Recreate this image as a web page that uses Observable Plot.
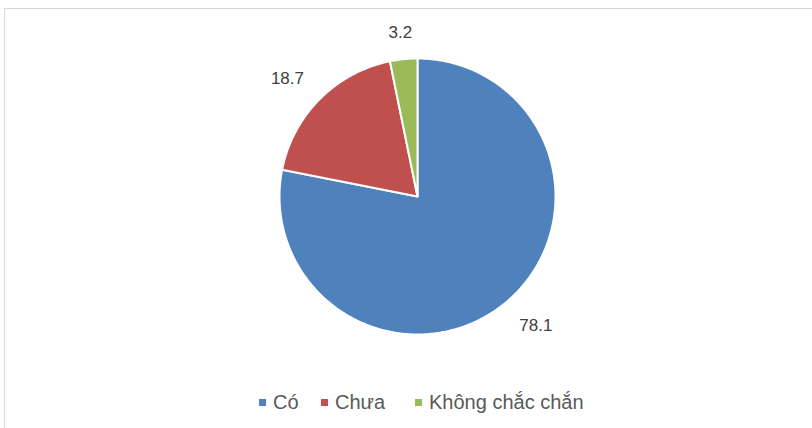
<!DOCTYPE html>
<html><head><meta charset="utf-8">
<script src="https://cdn.jsdelivr.net/npm/d3@7"></script>
<script src="https://cdn.jsdelivr.net/npm/@observablehq/plot@0.6"></script>
<style>
html,body{margin:0;padding:0;background:#fff;width:812px;height:428px;overflow:hidden;font-family:"Liberation Sans",Arial,sans-serif;}
#frame{position:absolute;left:4px;top:8px;width:830px;height:440px;border:1px solid #d9d9d9;box-sizing:border-box;}
#chart{position:absolute;left:0;top:0;}
#legend{position:absolute;left:0;top:391px;width:812px;height:26px;}
.item{position:absolute;top:0;display:flex;align-items:center;font-size:20px;line-height:23px;color:#595959;white-space:nowrap;}
.sw{width:7px;height:7px;margin-right:7px;display:inline-block;}
</style></head><body>
<div id="frame"></div>
<div id="chart"></div>
<div id="legend"></div>
<script>
const categories = ["Có", "Chưa", "Không chắc chắn"];
const values = [78.1, 18.7, 3.2];
const valueLabels = ["78.1", "18.7", "3.2"];
const colors = ["#4F81BD", "#C0504D", "#9BBB59"];

const W = 812, H = 385, cx = 417, cy = 196, R = 138;
const total = d3.sum(values);

const pts = [];
const labs = [];
let a0 = 0;
categories.forEach((c, i) => {
  const a1 = a0 + values[i] / total * 2 * Math.PI;
  pts.push({cat: c, x: cx, y: cy});
  const n = Math.max(2, Math.ceil((a1 - a0) / (Math.PI / 360)));
  for (let k = 0; k <= n; k++) {
    const a = a0 + (a1 - a0) * k / n;
    pts.push({cat: c, x: cx + R * Math.sin(a), y: cy - R * Math.cos(a)});
  }
  pts.push({cat: c, x: cx, y: cy});
  const am = (a0 + a1) / 2;
  const s = Math.sin(am), co = Math.cos(am);
  const w = valueLabels[i].length * 9;
  const hx = Math.abs(s) > 0.3 ? Math.sign(s) * w / 2 : s * w / 2;
  labs.push({text: valueLabels[i], x: cx + (R + 20) * s + hx, y: cy - (R + 20) * co - Math.sign(co) * 7});
  a0 = a1;
});

const plot = Plot.plot({
  width: W, height: H, margin: 0,
  x: {domain: [0, W], range: [0, W], axis: null},
  y: {domain: [0, H], range: [0, H], axis: null},
  color: {domain: categories, range: colors},
  style: {background: "transparent", fontFamily: "Liberation Sans, Arial, sans-serif"},
  marks: [
    Plot.line(pts, {x: "x", y: "y", z: "cat", fill: "cat", stroke: "white", strokeWidth: 2, strokeLinejoin: "round", curve: "linear"}),
    Plot.text(labs, {x: "x", y: "y", text: "text", fontSize: 17, fill: "#404040"})
  ]
});
document.getElementById("chart").appendChild(plot);

const legendX = [259, 321, 415];
const leg = document.getElementById("legend");
categories.forEach((c, i) => {
  const d = document.createElement("div");
  d.className = "item";
  d.style.left = legendX[i] + "px";
  d.innerHTML = `<span class="sw" style="background:${colors[i]}"></span><span>${c}</span>`;
  leg.appendChild(d);
});
</script>
</body></html>
